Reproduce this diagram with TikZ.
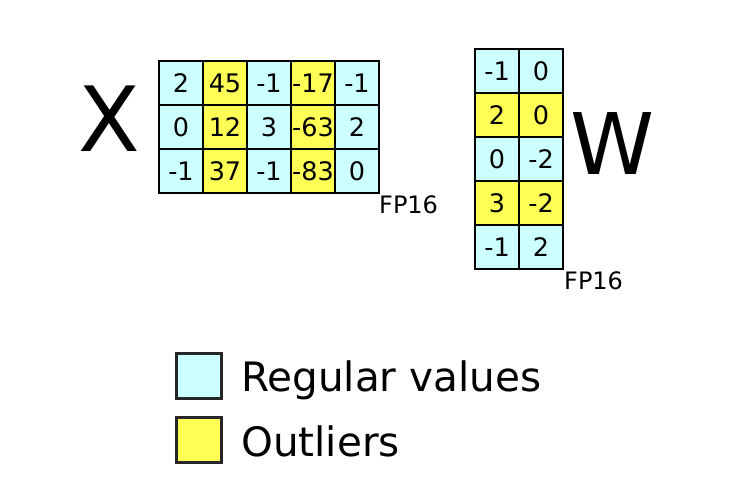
\documentclass[tikz,border=0pt]{standalone}
\usepackage{fontspec}
\setmainfont{DejaVu Sans}
\definecolor{regcol}{RGB}{204,255,255}
\definecolor{outcol}{RGB}{255,255,85}
\tikzset{
  cell/.style={draw=black, line width=2.6pt, minimum width=44pt, minimum height=44pt,
    inner sep=0pt, outer sep=0pt, font=\fontsize{25.5}{25.5}\selectfont},
  reg/.style={cell, fill=regcol},
  outl/.style={cell, fill=outcol},
  fplabel/.style={anchor=base west, inner sep=0pt, font=\fontsize{24}{24}\selectfont},
  bigletter/.style={inner sep=0pt, font=\fontsize{90}{90}\selectfont},
  legbox/.style={draw=black!85, line width=2.4pt, minimum width=45pt, minimum height=45pt, inner sep=0pt},
  legtext/.style={anchor=base west, inner sep=0pt, font=\fontsize{40.5}{40.5}\selectfont}
}
\begin{document}
\begin{tikzpicture}[x=1pt,y=-1pt]
\useasboundingbox (0,0) rectangle (738,496);
% X matrix
\foreach \r/\vals in {1/{2,45,-1,-17,-1},2/{0,12,3,-63,2},3/{-1,37,-1,-83,0}}{
  \foreach \v [count=\c] in \vals {
    \ifodd\c \def\sty{reg}\else\def\sty{outl}\fi
    \node[\sty] (x-\r-\c) at ({159+44*(\c-0.5)},{61+44*(\r-0.5)}) {\v};
  }
}
% W matrix
\foreach \r/\a/\b in {1/-1/0,2/2/0,3/0/-2,4/3/-2,5/-1/2}{
  \ifodd\r \def\sty{reg}\else\def\sty{outl}\fi
  \node[\sty] (w-\r-1) at ({475+22},{49+44*(\r-0.5)}) {\a};
  \node[\sty] (w-\r-2) at ({475+66},{49+44*(\r-0.5)}) {\b};
}
\node[bigletter] (X) at (109,119) {X};
\node[bigletter, font=\fontsize{85}{85}\selectfont] (W) at (613,144) {W};
\node[fplabel] (fpx) at (379,213) {FP16};
\node[fplabel] (fpw) at (564,289) {FP16};
% legend
\node[legbox, fill=regcol] (lreg) at (199,376) {};
\node[legbox, fill=outcol] (lout) at (199,440) {};
\node[legtext] (treg) at (241,391) {Regular values};
\node[legtext] (tout) at (241,456) {Outliers};
\end{tikzpicture}
\end{document}
